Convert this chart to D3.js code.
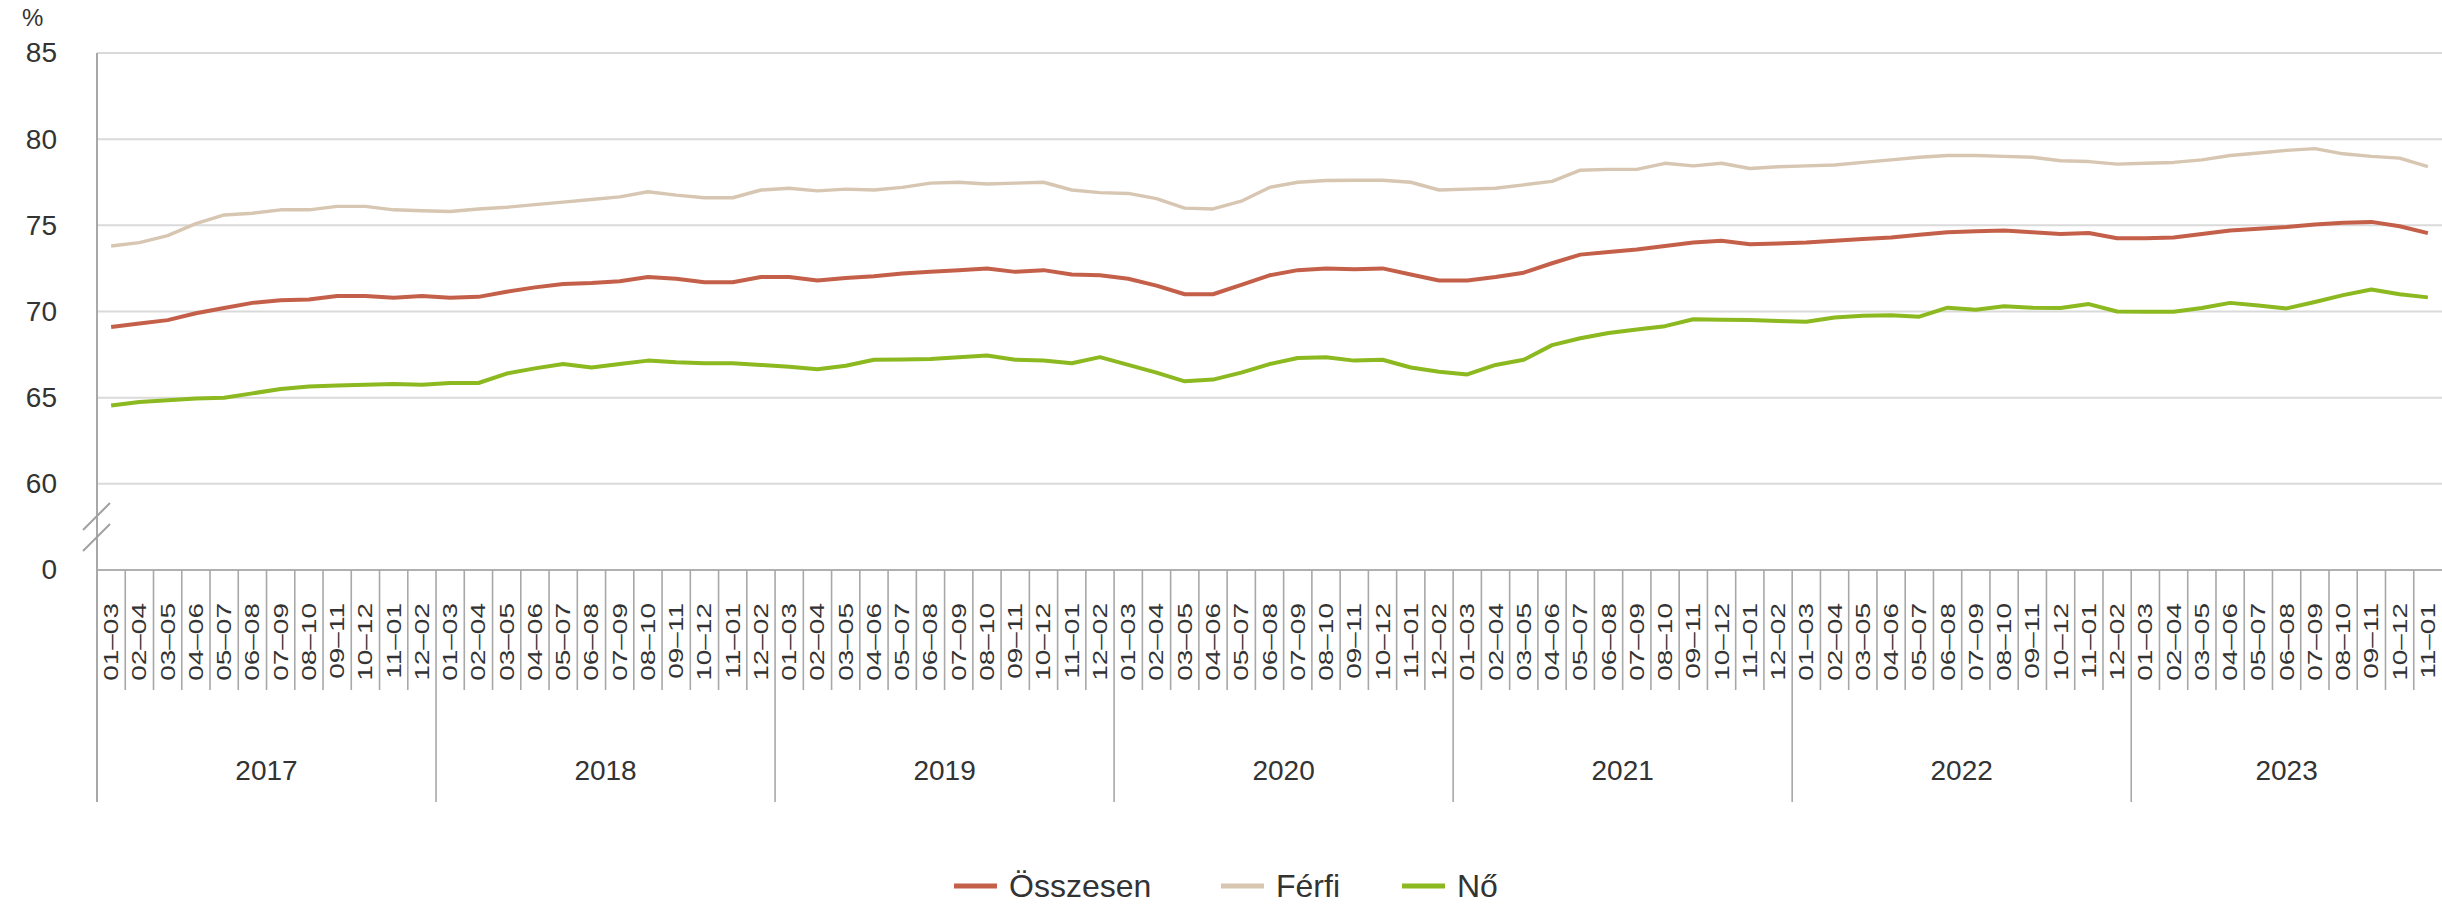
<!DOCTYPE html>
<html>
<head>
<meta charset="utf-8">
<script src="https://cdn.jsdelivr.net/npm/d3@7"></script>
<style>
  body { margin: 0; background: #fff; }
  svg text { font-family: Arial, "Liberation Sans", sans-serif; fill: #333; }
</style>
</head>
<body>
<svg id="chart" width="2442" height="905"></svg>
<script>
// Three-month moving periods, grouped by year (2023 runs to 11–01)
const years = ["2017", "2018", "2019", "2020", "2021", "2022", "2023"];
const periods = ["01–03", "02–04", "03–05", "04–06", "05–07", "06–08",
                 "07–09", "08–10", "09–11", "10–12", "11–01", "12–02"];
const periodsPerYear = [12, 12, 12, 12, 12, 12, 11];

// Y axis: break between 0 and 60
const yTickValues = [55, 60, 65, 70, 75, 80, 85];
const yTickLabels = ["0", "60", "65", "70", "75", "80", "85"];

const seriesNames = ["Összesen", "Férfi", "Nő"];
const seriesColors = ["#c4604a", "#d7c6b2", "#8cb820"];

const osszesen = [
  69.1, 69.3, 69.5, 69.9, 70.2, 70.5, 70.65, 70.7, 70.9, 70.9, 70.8, 70.9,
  70.8, 70.85, 71.15, 71.4, 71.6, 71.65, 71.75, 72.0, 71.9, 71.7, 71.7, 72.0,
  72.0, 71.8, 71.95, 72.05, 72.2, 72.3, 72.4, 72.5, 72.3, 72.4, 72.15, 72.1,
  71.9, 71.5, 71.0, 71.0, 71.55, 72.1, 72.4, 72.5, 72.45, 72.5, 72.15, 71.8,
  71.8, 72.0, 72.25, 72.8, 73.3, 73.45, 73.6, 73.8, 74.0, 74.1, 73.9, 73.95,
  74.0, 74.1, 74.2, 74.3, 74.45, 74.6, 74.65, 74.7, 74.6, 74.5, 74.55, 74.25,
  74.25, 74.3, 74.5, 74.7, 74.8, 74.9, 75.05, 75.15, 75.2, 74.95, 74.55
];
const ferfi = [
  73.8, 74.0, 74.4, 75.1, 75.6, 75.7, 75.9, 75.9, 76.1, 76.1, 75.9, 75.85,
  75.8, 75.95, 76.05, 76.2, 76.35, 76.5, 76.65, 76.95, 76.75, 76.6, 76.6, 77.05,
  77.15, 77.0, 77.1, 77.05, 77.2, 77.45, 77.5, 77.4, 77.45, 77.5, 77.05, 76.9,
  76.85, 76.55, 76.0, 75.95, 76.4, 77.2, 77.5, 77.6, 77.62, 77.62, 77.5, 77.05,
  77.1, 77.15, 77.35, 77.55, 78.2, 78.25, 78.25, 78.6, 78.45, 78.6, 78.3, 78.4,
  78.45, 78.5, 78.65, 78.8, 78.95, 79.05, 79.05, 79.0, 78.95, 78.75, 78.7, 78.55,
  78.6, 78.65, 78.8, 79.05, 79.2, 79.35, 79.45, 79.15, 79.0, 78.9, 78.4
];
const no = [
  64.55, 64.75, 64.85, 64.95, 65.0, 65.25, 65.5, 65.65, 65.7, 65.75, 65.8, 65.75,
  65.85, 65.85, 66.4, 66.7, 66.95, 66.75, 66.95, 67.15, 67.05, 67.0, 67.0, 66.9,
  66.8, 66.65, 66.85, 67.2, 67.22, 67.25, 67.35, 67.45, 67.2, 67.15, 67.0, 67.35,
  66.9, 66.45, 65.95, 66.05, 66.45, 66.95, 67.3, 67.35, 67.15, 67.2, 66.75, 66.5,
  66.35, 66.9, 67.2, 68.05, 68.45, 68.75, 68.95, 69.15, 69.55, 69.52, 69.5, 69.45,
  69.4, 69.65, 69.75, 69.78, 69.7, 70.22, 70.1, 70.3, 70.22, 70.2, 70.43, 70.0,
  69.98, 69.98, 70.2, 70.5, 70.35, 70.18, 70.55, 70.95, 71.28, 71.0, 70.82
];
const seriesValues = [osszesen, ferfi, no];

// Category keys: "year|period"
const categories = years.flatMap((yr, yi) =>
  periods.slice(0, periodsPerYear[yi]).map(p => ({ key: yr + "|" + p, year: yr, period: p })));

const svg = d3.select("#chart");
const plotLeft = 97, plotRight = 2442, plotTop = 53, plotBottom = 570;

const x = d3.scaleBand().domain(categories.map(c => c.key)).range([plotLeft, plotRight]).padding(0);
const y = d3.scaleLinear().domain([55, 85]).range([plotBottom, plotTop]);
const cx = k => x(k) + x.bandwidth() / 2;

// Horizontal gridlines
svg.append("g").selectAll("line")
  .data(yTickValues.filter(v => v !== 55))
  .join("line")
  .attr("x1", plotLeft).attr("x2", plotRight)
  .attr("y1", d => y(d)).attr("y2", d => y(d))
  .attr("stroke", "#dadada").attr("stroke-width", 2);

// Y axis labels
const yAxis = d3.axisLeft(y).tickValues(yTickValues)
  .tickFormat((d, i) => yTickLabels[i]).tickSize(0).tickPadding(40);
const yg = svg.append("g").attr("transform", `translate(${plotLeft},0)`).call(yAxis);
yg.select(".domain").remove();
yg.selectAll("text").style("font-size", "28px").attr("fill", "#333");

svg.append("text").attr("x", 22).attr("y", 26).style("font-size", "24px").text("%");

// Axis lines
svg.append("line").attr("x1", plotLeft).attr("x2", plotRight).attr("y1", plotBottom).attr("y2", plotBottom)
  .attr("stroke", "#b0b0b0").attr("stroke-width", 2);
svg.append("line").attr("x1", plotLeft).attr("x2", plotLeft).attr("y1", plotTop).attr("y2", 802)
  .attr("stroke", "#a8a8a8").attr("stroke-width", 2);

// Axis break marks
const brk = svg.append("g").attr("stroke", "#a0a0a0").attr("stroke-width", 2);
[[530, 503], [551, 524]].forEach(([ya, yb]) => {
  brk.append("line").attr("x1", plotLeft - 14).attr("y1", ya).attr("x2", plotLeft + 13).attr("y2", yb);
});

// Category separators: short between periods, long between years
const yearStart = new Set();
let acc = 0;
periodsPerYear.forEach(n => { yearStart.add(acc); acc += n; });
svg.append("g").selectAll("line")
  .data(categories.slice(1).map((c, i) => ({ c, idx: i + 1 })))
  .join("line")
  .attr("x1", d => x(d.c.key)).attr("x2", d => x(d.c.key))
  .attr("y1", plotBottom)
  .attr("y2", d => yearStart.has(d.idx) ? 802 : 690)
  .attr("stroke", "#a8a8a8").attr("stroke-width", 1.6);

// Period labels (rotated)
svg.append("g").selectAll("text")
  .data(categories)
  .join("text")
  .attr("transform", d => `translate(${cx(d.key) + 7},603) rotate(-90) scale(1.4,1)`)
  .attr("text-anchor", "end")
  .style("font-size", "20px")
  .attr("fill", "#3a3a3a")
  .text(d => d.period);

// Year labels centred under their groups
const yearSpans = years.map((yr, yi) => {
  const keys = categories.filter(c => c.year === yr).map(c => c.key);
  const x0 = x(keys[0]);
  const x1 = yi === years.length - 1 ? plotRight : x(keys[keys.length - 1]) + x.bandwidth();
  return { yr, mid: (x0 + x1) / 2 };
});
svg.append("g").selectAll("text")
  .data(yearSpans)
  .join("text")
  .attr("x", d => d.mid).attr("y", 780)
  .attr("text-anchor", "middle")
  .style("font-size", "28px")
  .text(d => d.yr);

// Series lines
const line = d3.line().x((d, i) => cx(categories[i].key)).y(d => y(d));
svg.append("g").selectAll("path")
  .data(seriesValues)
  .join("path")
  .attr("d", d => line(d))
  .attr("fill", "none")
  .attr("stroke", (d, i) => seriesColors[i])
  .attr("stroke-width", (d, i) => i === 1 ? 3.4 : 4)
  .attr("stroke-linejoin", "round");

// Legend
const legendX = [954, 1221, 1402];
const lg = svg.append("g");
seriesNames.forEach((name, i) => {
  lg.append("line").attr("x1", legendX[i]).attr("x2", legendX[i] + 43)
    .attr("y1", 886).attr("y2", 886)
    .attr("stroke", seriesColors[i]).attr("stroke-width", 5);
  lg.append("text").attr("x", legendX[i] + 55).attr("y", 897)
    .style("font-size", "32px").text(name);
});
</script>
</body>
</html>
